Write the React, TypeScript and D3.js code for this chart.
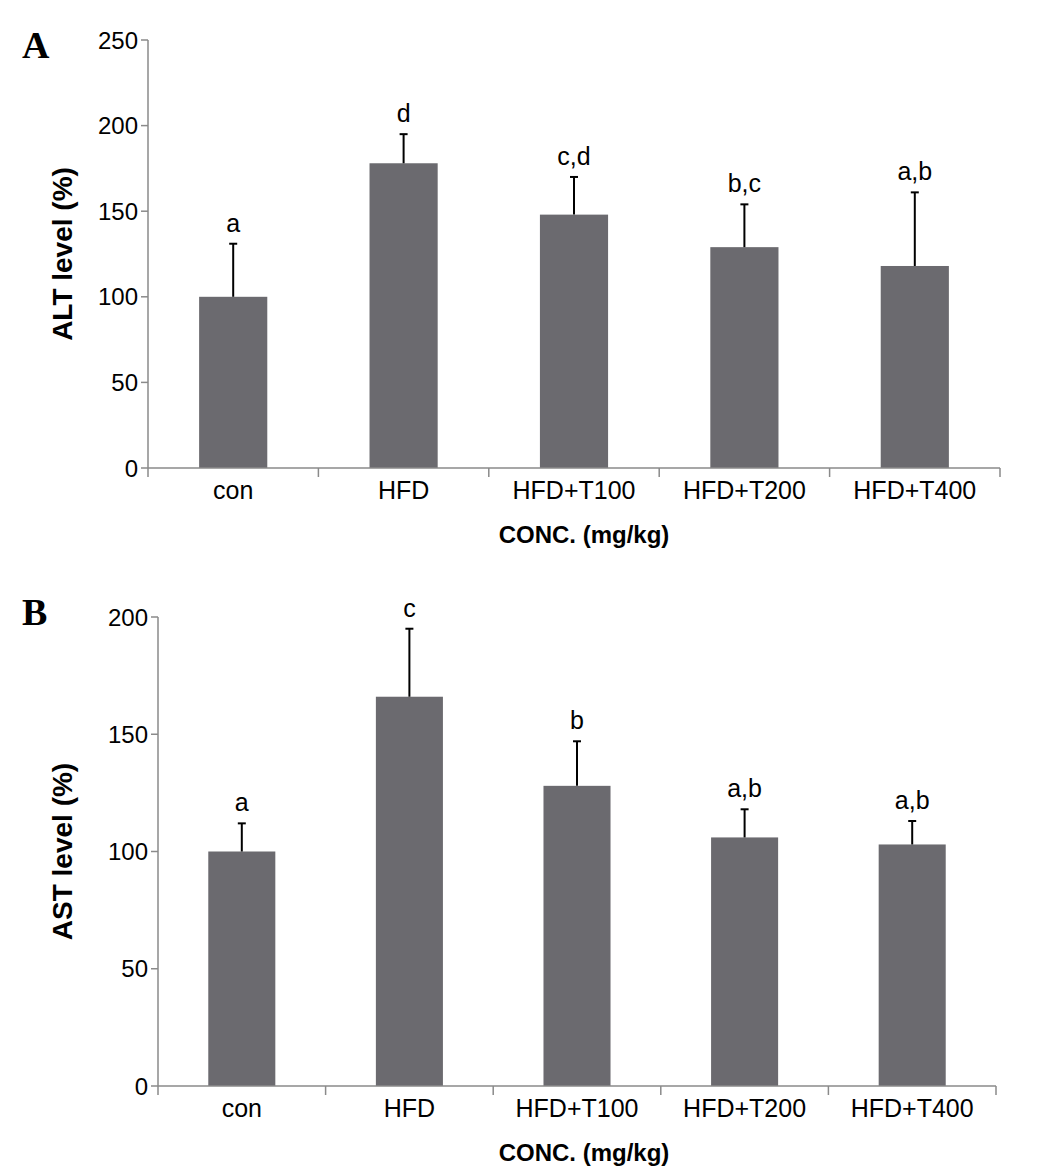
import React from "react";
import * as d3 from "d3";

// groups on the x axis
const groups = ["con", "HFD", "HFD+T100", "HFD+T200", "HFD+T400"];

// panel A: ALT level (%)
const altMean = [100, 178, 148, 129, 118];
const altErr = [31, 17, 22, 25, 43];
const altLetters = ["a", "d", "c,d", "b,c", "a,b"];
const altTicks = [0, 50, 100, 150, 200, 250];

// panel B: AST level (%)
const astMean = [100, 166, 128, 106, 103];
const astErr = [12, 29, 19, 12, 10];
const astLetters = ["a", "c", "b", "a,b", "a,b"];
const astTicks = [0, 50, 100, 150, 200];

const SANS = "'Liberation Sans', Arial, Helvetica, sans-serif";
const SERIF = "'Liberation Serif', 'Times New Roman', serif";
const BAR = "#6b6a6f";
const AXIS = "#8a8a8a";

interface PanelProps {
  tag: string;
  yTitle: string;
  mean: number[];
  err: number[];
  letters: string[];
  ticks: number[];
  left: number;
  right: number;
  top: number;
  bottom: number;
  tagY: number;
  xTitleY: number;
}

const Panel = ({ tag, yTitle, mean, err, letters, ticks, left, right, top, bottom, tagY, xTitleY }: PanelProps) => {
  const x = d3.scaleBand<string>().domain(groups).range([left, right]).padding(0);
  const y = d3.scaleLinear().domain([0, d3.max(ticks) as number]).range([bottom, top]);
  const barW = x.bandwidth() * 0.4;
  const boundaries = groups.map((g) => x(g) as number).concat([right]);

  return (
    <g>
      {/* panel letter */}
      <text x={22} y={tagY} fontFamily={SERIF} fontWeight="bold" fontSize={38} fill="#000">
        {tag}
      </text>

      {/* bars with upper error bars and significance letters */}
      {groups.map((g, i) => {
        const cx = (x(g) as number) + x.bandwidth() / 2;
        const top = y(mean[i] + err[i]);
        return (
          <g key={g}>
            <rect x={cx - barW / 2} y={y(mean[i])} width={barW} height={y(0) - y(mean[i])} fill={BAR} />
            <line x1={cx} x2={cx} y1={y(mean[i])} y2={top} stroke="#000" strokeWidth={2} />
            <line x1={cx - 4} x2={cx + 4} y1={top} y2={top} stroke="#000" strokeWidth={2} />
            <text x={cx} y={top - 12} textAnchor="middle" fontFamily={SANS} fontSize={25} fill="#000">
              {letters[i]}
            </text>
          </g>
        );
      })}

      {/* y axis */}
      <line x1={left} x2={left} y1={top} y2={bottom} stroke={AXIS} strokeWidth={1.5} />
      {ticks.map((t) => (
        <g key={t}>
          <line x1={left - 7} x2={left} y1={y(t)} y2={y(t)} stroke={AXIS} strokeWidth={1.5} />
          <text x={left - 10} y={y(t)} dy="0.36em" textAnchor="end" fontFamily={SANS} fontSize={24} fill="#000">
            {t}
          </text>
        </g>
      ))}

      {/* x axis */}
      <line x1={left} x2={right} y1={bottom} y2={bottom} stroke={AXIS} strokeWidth={1.5} />
      {boundaries.map((b, i) => (
        <line key={i} x1={b} x2={b} y1={bottom} y2={bottom + 9} stroke={AXIS} strokeWidth={1.5} />
      ))}
      {groups.map((g) => (
        <text
          key={g}
          x={(x(g) as number) + x.bandwidth() / 2}
          y={bottom + 31}
          textAnchor="middle"
          fontFamily={SANS}
          fontSize={25}
          fill="#000"
        >
          {g}
        </text>
      ))}

      {/* axis titles */}
      <text
        transform={`translate(72,${(top + bottom) / 2}) rotate(-90)`}
        textAnchor="middle"
        fontFamily={SANS}
        fontWeight="bold"
        fontSize={28}
        fill="#000"
      >
        {yTitle}
      </text>
      <text x={584} y={xTitleY} textAnchor="middle" fontFamily={SANS} fontWeight="bold" fontSize={24} fill="#000">
        CONC. (mg/kg)
      </text>
    </g>
  );
};

const App = () => {
  return (
    <svg
      width={1040}
      height={1174}
      style={{ position: "absolute", left: 0, top: 0, background: "#fff" }}
    >
      <rect width={1040} height={1174} fill="#fff" />
      <Panel
        tag="A"
        yTitle="ALT level (%)"
        mean={altMean}
        err={altErr}
        letters={altLetters}
        ticks={altTicks}
        left={148}
        right={1000}
        top={40}
        bottom={468}
        tagY={58}
        xTitleY={543}
      />
      <Panel
        tag="B"
        yTitle="AST level (%)"
        mean={astMean}
        err={astErr}
        letters={astLetters}
        ticks={astTicks}
        left={158}
        right={996}
        top={617}
        bottom={1086}
        tagY={625}
        xTitleY={1161}
      />
    </svg>
  );
};

export default App;
